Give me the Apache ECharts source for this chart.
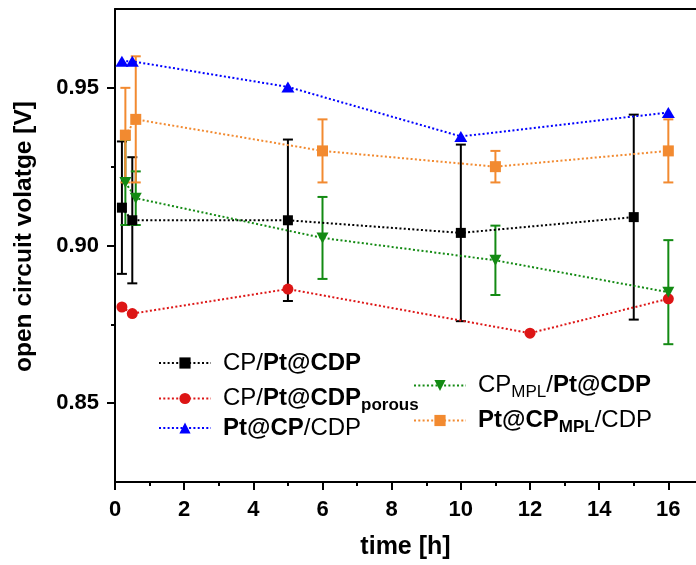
<!DOCTYPE html>
<html><head><meta charset="utf-8">
<script src="https://cdn.jsdelivr.net/npm/echarts/dist/echarts.min.js"></script>
<style>html,body{margin:0;padding:0;background:#fff}#c{width:696px;height:565px}</style>
</head><body><div id="c"></div>
<script>
// ---- data ----
const seriesNames = ['s1', 's2', 's3', 's4', 's5'];
const legendLabels = [
  'CP/{b|Pt@CDP}',
  'CP/{b|Pt@CDP}{bs|porous}',
  '{b|Pt@CP}/CDP',
  'CP{s|MPL}/{b|Pt@CDP}',
  '{b|Pt@CP}{bs|MPL}/CDP'
];
// CP/Pt@CDP
const time1 = [0.2, 0.5, 5, 10, 15];
const ocv1  = [0.912, 0.908, 0.908, 0.904, 0.909];
const err1  = [0.021, 0.020, 0.0256, 0.028, 0.0325];
// CP/Pt@CDP porous
const time2 = [0.2, 0.5, 5, 12, 16];
const ocv2  = [0.8805, 0.8784, 0.8862, 0.8722, 0.8831];
// Pt@CP/CDP
const time3 = [0.2, 0.5, 5, 10, 16];
const ocv3  = [0.9584, 0.9584, 0.9503, 0.9346, 0.9422];
// CP_MPL/Pt@CDP
const time4 = [0.3, 0.6, 6, 11, 16];
const ocv4  = [0.920, 0.915, 0.9024, 0.8953, 0.8852];
const err4  = [0.0135, 0.0085, 0.013, 0.011, 0.0165];
// Pt@CP_MPL/CDP
const time5 = [0.3, 0.6, 6, 11, 16];
const ocv5  = [0.935, 0.940, 0.930, 0.925, 0.930];
const err5  = [0.015, 0.020, 0.010, 0.005, 0.010];

const xTicks = [0, 2, 4, 6, 8, 10, 12, 14, 16];
const xMinorTicks = [1, 3, 5, 7, 9, 11, 13, 15];
const yTicks = [0.85, 0.90, 0.95];
const yMinorTicks = [0.875, 0.925];

// ---- styles ----
const FONT = "'Liberation Sans', Arial, sans-serif";
const colors = ['#000000', '#dd1515', '#0000ff', '#138a13', '#f28a30'];
const symbols = ['rect', 'circle', 'triangle', 'triangle', 'rect'];
const symSizes = [10, 11, [13, 11], [12, 11], 11];
const symRot = [0, 0, 0, 180, 0];

function pairs(t, v) { return t.map((x, i) => [x, v[i]]); }
function errData(t, v, e) { return t.map((x, i) => [x, v[i] - e[i], v[i] + e[i]]); }

function errSeries(name, data, color) {
  return {
    type: 'custom', name: name, xAxisIndex: 0, yAxisIndex: 0,
    data: data, encode: { x: 0, y: [1, 2] }, z: 1, silent: true,
    renderItem: function (params, api) {
      const x = api.value(0), lo = api.value(1), hi = api.value(2);
      const p1 = api.coord([x, lo]), p2 = api.coord([x, hi]);
      const hw = 5;
      const st = { stroke: color, lineWidth: 2 };
      return { type: 'group', children: [
        { type: 'line', shape: { x1: p1[0], y1: p1[1], x2: p2[0], y2: p2[1] }, style: st },
        { type: 'line', shape: { x1: p1[0] - hw, y1: p1[1], x2: p1[0] + hw, y2: p1[1] }, style: st },
        { type: 'line', shape: { x1: p2[0] - hw, y1: p2[1], x2: p2[0] + hw, y2: p2[1] }, style: st }
      ]};
    }
  };
}

function lineSeries(i, data) {
  return {
    type: 'line', name: seriesNames[i], xAxisIndex: 0, yAxisIndex: 0,
    data: data, symbol: symbols[i], symbolSize: symSizes[i], symbolRotate: symRot[i],
    showSymbol: true, z: 3,
    lineStyle: { color: colors[i], width: 2, type: [2, 2.3] },
    itemStyle: { color: colors[i] }
  };
}

const rich = {
  b:  { fontFamily: FONT, fontSize: 24, fontWeight: 'bold', color: '#000', lineHeight: 24 },
  s:  { fontFamily: FONT, fontSize: 17, color: '#000', lineHeight: 24, padding: [14, 0, 0, 0] },
  bs: { fontFamily: FONT, fontSize: 17, fontWeight: 'bold', color: '#000', lineHeight: 24, padding: [14, 0, 0, 0] }
};

function legendFor(i, left, top) {
  return {
    data: [seriesNames[i]], orient: 'vertical', left: left, top: top, padding: 0,
    itemWidth: 52, itemHeight: 14, selectedMode: false,
    formatter: function (n) { return legendLabels[seriesNames.indexOf(n)]; },
    textStyle: { fontFamily: FONT, fontSize: 24, color: '#000', lineHeight: 24, padding: [0, 0, 0, 7], rich: rich }
  };
}

const axisLineStyle = { color: '#000', width: 2 };
const tickStyle = { color: '#000', width: 2 };
const X_MIN = 0, X_MAX = 16.8, Y_MIN = 0.825, Y_MAX = 0.975;

const option = {
  backgroundColor: '#fff',
  animation: false,
  grid: [{ left: 115, top: 9, right: 0, bottom: 82 }],
  legend: [
    legendFor(0, 158, 351),
    legendFor(1, 158, 383),
    legendFor(2, 158, 416),
    legendFor(3, 413, 370),
    legendFor(4, 413, 405)
  ],
  xAxis: [
    {
      type: 'value', min: X_MIN, max: X_MAX, position: 'bottom',
      axisLine: { show: true, onZero: false, lineStyle: axisLineStyle },
      axisTick: { show: true, length: 8, lineStyle: tickStyle, customValues: xTicks },
      splitLine: { show: false },
      axisLabel: {
        margin: 17, fontFamily: FONT, fontSize: 22, fontWeight: 'bold', color: '#000',
        customValues: xTicks,
        formatter: function (v) { return String(Math.round(v)); }
      },
      name: 'time [h]', nameLocation: 'middle', nameGap: 53,
      nameTextStyle: { fontFamily: FONT, fontSize: 25, fontWeight: 'bold', color: '#000' }
    },
    {
      type: 'value', min: X_MIN, max: X_MAX, position: 'bottom',
      axisLine: { show: false, onZero: false },
      axisTick: { show: true, length: 4, lineStyle: tickStyle, customValues: xMinorTicks },
      axisLabel: { show: false }, splitLine: { show: false }
    },
    {
      type: 'value', min: X_MIN, max: X_MAX, position: 'top',
      axisLine: { show: true, onZero: false, lineStyle: axisLineStyle },
      axisTick: { show: false }, axisLabel: { show: false }, splitLine: { show: false }
    }
  ],
  yAxis: [
    {
      type: 'value', min: Y_MIN, max: Y_MAX, position: 'left',
      axisLine: { show: true, onZero: false, lineStyle: axisLineStyle },
      axisTick: { show: true, length: 8, lineStyle: tickStyle, customValues: yTicks },
      splitLine: { show: false },
      axisLabel: {
        margin: 16, fontFamily: FONT, fontSize: 22, fontWeight: 'bold', color: '#000',
        customValues: yTicks,
        formatter: function (v) { return v.toFixed(2); }
      },
      name: 'open circuit volatge [V]', nameLocation: 'middle', nameGap: 78,
      nameTextStyle: { fontFamily: FONT, fontSize: 24.5, fontWeight: 'bold', color: '#000', padding: [0, 0, 0, 18] }
    },
    {
      type: 'value', min: Y_MIN, max: Y_MAX, position: 'left',
      axisLine: { show: false, onZero: false },
      axisTick: { show: true, length: 4, lineStyle: tickStyle, customValues: yMinorTicks },
      axisLabel: { show: false }, splitLine: { show: false }
    }
  ],
  series: [
    errSeries('e1', errData(time1, ocv1, err1), colors[0]),
    errSeries('e4', errData(time4, ocv4, err4), colors[3]),
    errSeries('e5', errData(time5, ocv5, err5), colors[4]),
    lineSeries(0, pairs(time1, ocv1)),
    lineSeries(1, pairs(time2, ocv2)),
    lineSeries(2, pairs(time3, ocv3)),
    lineSeries(3, pairs(time4, ocv4)),
    lineSeries(4, pairs(time5, ocv5))
  ]
};

const chart = echarts.init(document.getElementById('c'), null, { renderer: 'canvas' });
chart.setOption(option);
</script>
</body></html>
